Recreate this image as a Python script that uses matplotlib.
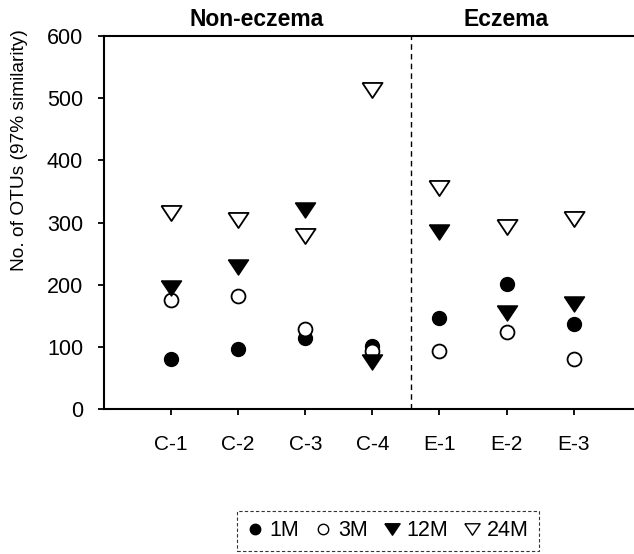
import numpy as np
import matplotlib
matplotlib.use('Agg')
import matplotlib.pyplot as plt
from matplotlib.lines import Line2D

plt.rcParams['font.family'] = ['Liberation Sans', 'DejaVu Sans']

# sample names and values
samples = ['C-1', 'C-2', 'C-3', 'C-4', 'E-1', 'E-2', 'E-3']
m1 = [80, 96, 114, 101, 146, 201, 137]
m3 = [175, 182, 129, 93, 93, 124, 80]
m12 = [195, 228, 320, 76, 285, 154, 169]
m24 = [315, 304, 278, 513, 356, 293, 305]
groups = ['Non-eczema', 'Eczema']
yticks = [0, 100, 200, 300, 400, 500, 600]

# wide, flat down-pointing triangle
tri = [(-1, 0.75), (1, 0.75), (0, -0.75), (-1, 0.75)]

fig = plt.figure(figsize=(6.34, 5.54), dpi=100)
ax = fig.add_axes([0.164, 0.2617, 0.836, 0.673])

x = np.arange(1, len(samples) + 1)
ax.plot(x, m1, 'o', color='black', ms=10, ls='none')
ax.plot(x, m3, 'o', mfc='white', mec='black', mew=1.3, ms=10, ls='none')
ax.plot(x, m12, marker=tri, color='black', ms=14.5, ls='none')
ax.plot(x, m24, marker=tri, mfc='white', mec='black', mew=1.3, ms=14.5, ls='none')

ax.set_xlim(0, 7.9)
ax.set_ylim(0, 600)
ax.set_xticks(x)
ax.set_xticklabels(samples)
ax.set_yticks(yticks)

ax.axvline(4.57, color='black', ls=(0, (4, 3)), lw=1)

ax.spines['right'].set_visible(False)
for s in ['left', 'top', 'bottom']:
    ax.spines[s].set_linewidth(1.5)
ax.tick_params(axis='x', direction='out', length=4, width=1.3, labelsize=15, pad=15)
ax.tick_params(axis='y', direction='out', length=4, width=1.3, labelsize=15.5, pad=11)

fig.text(20 / 634, 0.73, 'No. of OTUs (97% similarity)', rotation=90,
         ha='center', va='center', fontsize=13.8)

trans = ax.get_xaxis_transform()
ax.text(2.28, 1.045, groups[0], transform=trans, ha='center', va='center',
        fontsize=16.5, fontweight='bold')
ax.text(6.0, 1.045, groups[1], transform=trans, ha='center', va='center',
        fontsize=16.5, fontweight='bold')

handles = [
    Line2D([], [], marker='o', color='black', ls='none', ms=7.5),
    Line2D([], [], marker='o', mfc='white', mec='black', ls='none', ms=7.5),
    Line2D([], [], marker=tri, color='black', ls='none', ms=11),
    Line2D([], [], marker=tri, mfc='white', mec='black', ls='none', ms=11),
]
leg = fig.legend(handles, ['1M', '3M', '12M', '24M'], loc='center',
                 bbox_to_anchor=(388 / 634, 1 - 531 / 554), ncol=4,
                 fontsize=15.5, handlelength=0.7, handletextpad=0.35,
                 columnspacing=0.75, fancybox=False, edgecolor='black',
                 borderpad=0.45)
leg.get_frame().set_linestyle((0, (3, 2)))
leg.get_frame().set_linewidth(0.8)

fig.savefig('out.png', dpi=100)
